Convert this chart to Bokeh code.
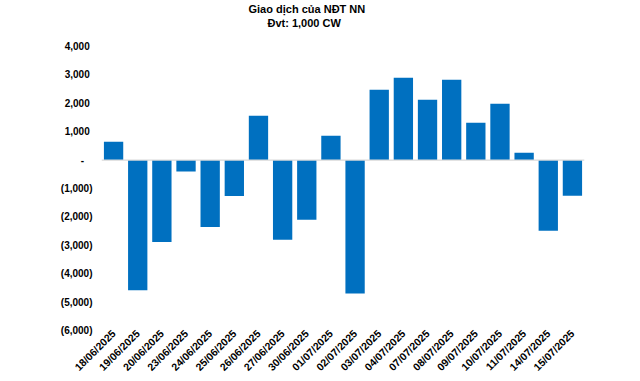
import math
from bokeh.plotting import figure
from bokeh.models import (ColumnDataSource, FactorRange, Range1d, FixedTicker,
                          CustomJSTickFormatter, Span, Title)
from bokeh.embed import file_html
from bokeh.resources import INLINE

# ---- data ----
dates = ["18/06/2025", "19/06/2025", "20/06/2025", "23/06/2025", "24/06/2025",
         "25/06/2025", "26/06/2025", "27/06/2025", "30/06/2025", "01/07/2025",
         "02/07/2025", "03/07/2025", "04/07/2025", "07/07/2025", "08/07/2025",
         "09/07/2025", "10/07/2025", "11/07/2025", "14/07/2025", "15/07/2025"]
values = [647, -4583, -2887, -403, -2357, -1261, 1565, -2806, -2102, 856,
          -4697, 2475, 2898, 2123, 2827, 1313, 1982, 257, -2489, -1257]
y_ticks = [-6000, -5000, -4000, -3000, -2000, -1000, 0, 1000, 2000, 3000, 4000]
title_line1 = "Giao dịch của NĐT NN"
title_line2 = "Đvt: 1,000 CW"

FONT = "Liberation Sans"
BAR_COLOR = "#0070C0"

# frame extends a little above the top tick so the titles sit near the top
Y_MIN, Y_MAX = -6000, 4634

src = ColumnDataSource(dict(date=dates, value=values))

p = figure(width=640, height=381, output_backend="svg", toolbar_location=None,
           x_range=FactorRange(*dates), y_range=Range1d(Y_MIN, Y_MAX),
           min_border_left=101, min_border_right=56, min_border_top=28,
           min_border_bottom=51)

has_standoff = "standoff" in Title.properties()

# figure title = top line; added title sits nearer the frame
p.title.text = title_line1
p.title.align = "left"
p.title.offset = 147
p.title.text_font = FONT
p.title.text_font_size = "11px"
p.title.text_font_style = "bold"
p.title.text_color = "#000000"
if has_standoff:
    p.title.standoff = 0

t2 = Title(text=title_line2, align="left", offset=166, text_font=FONT,
           text_font_size="11px", text_font_style="bold", text_color="#000000")
if has_standoff:
    t2.standoff = 0
p.add_layout(t2, "above")

p.vbar(x="date", top="value", width=0.8, source=src, color=BAR_COLOR,
       line_color=None)

zero = Span(location=0, dimension="width", line_color="#d9d9d9", line_width=1.2)
p.add_layout(zero)

p.outline_line_color = None
p.xgrid.grid_line_color = None
p.ygrid.grid_line_color = None

p.yaxis.ticker = FixedTicker(ticks=y_ticks)
p.yaxis.formatter = CustomJSTickFormatter(code="""
const a = Math.abs(tick).toFixed(0).replace(/\\B(?=(\\d{3})+(?!\\d))/g, ',');
if (tick > 0) return a + '\\u2008';
if (tick < 0) return '(' + a + ')';
return '-\\u2007\\u2008';
""")
p.yaxis.axis_line_color = None
p.yaxis.major_tick_line_color = None
p.yaxis.minor_tick_line_color = None
p.yaxis.major_tick_out = 0
p.yaxis.major_tick_in = 0
p.yaxis.major_label_standoff = 9
p.yaxis.major_label_text_font = FONT
p.yaxis.major_label_text_font_size = "10px"
p.yaxis.major_label_text_font_style = "bold"
p.yaxis.major_label_text_color = "#000000"

p.xaxis.axis_line_color = None
p.xaxis.major_tick_line_color = None
p.xaxis.minor_tick_line_color = None
p.xaxis.major_tick_out = 0
p.xaxis.major_tick_in = 0
p.xaxis.major_label_standoff = 1
p.xaxis.major_label_orientation = math.pi / 4
p.xaxis.major_label_text_font = FONT
p.xaxis.major_label_text_font_size = "10.5px"
p.xaxis.major_label_text_font_style = "bold"
p.xaxis.major_label_text_color = "#000000"

open("out.html", "w").write(file_html(p, INLINE))
